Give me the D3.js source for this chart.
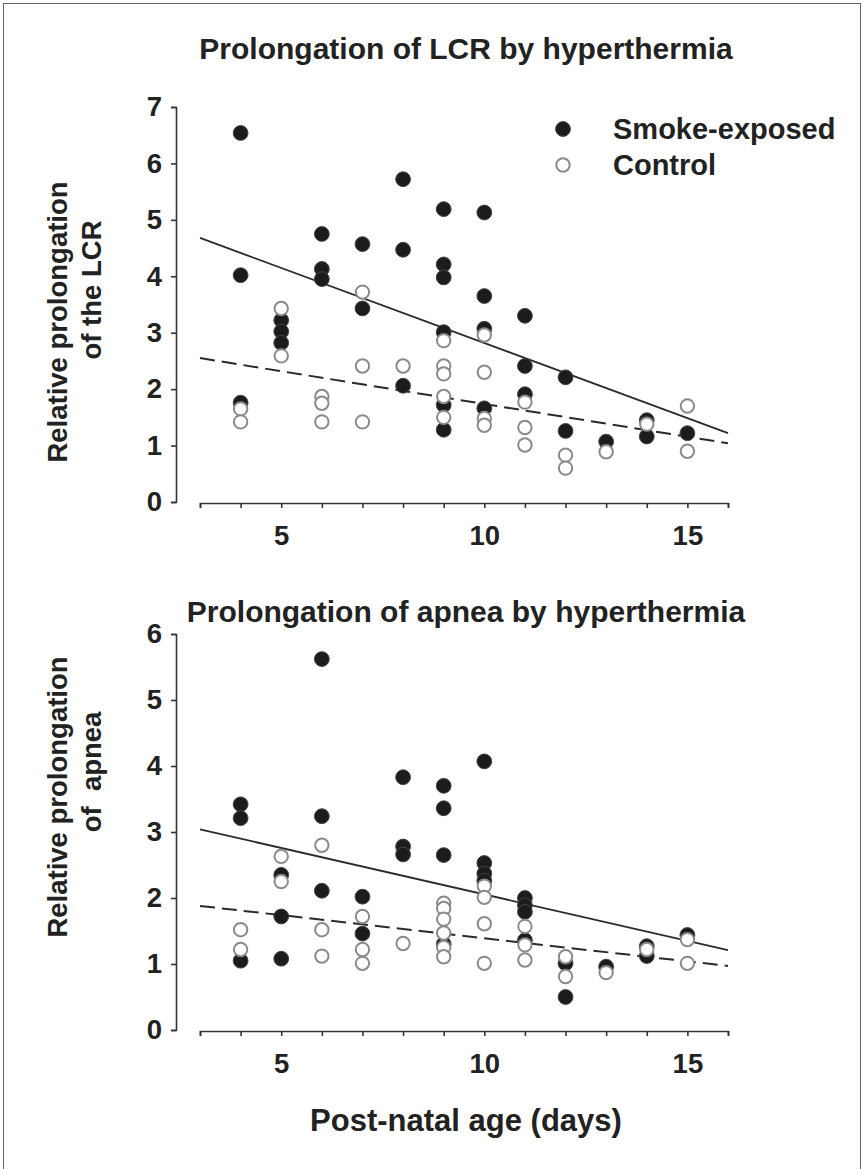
<!DOCTYPE html>
<html>
<head>
<meta charset="utf-8">
<script src="https://cdn.jsdelivr.net/npm/d3@7"></script>
<style>
  body { margin: 0; background: #fff; }
  text { font-family: "Liberation Sans", Arial, sans-serif; font-weight: bold; fill: #222; }
</style>
</head>
<body>
<script>
// LCR panel: [day, relative prolongation]
var lcrSmoke = [
  [4, 6.54], [4, 4.02], [4, 1.76],
  [5, 3.22], [5, 3.02], [5, 2.82],
  [6, 4.75], [6, 4.13], [6, 3.95],
  [7, 4.57], [7, 3.43],
  [8, 5.72], [8, 4.47], [8, 2.06],
  [9, 5.19], [9, 4.21], [9, 3.98], [9, 3.01], [9, 1.72], [9, 1.28],
  [10, 5.13], [10, 3.65], [10, 3.07], [10, 1.66],
  [11, 3.30], [11, 2.41], [11, 1.91],
  [12, 2.21], [12, 1.26],
  [13, 1.07],
  [14, 1.45], [14, 1.16],
  [15, 1.22]
];
var lcrControl = [
  [4, 1.65], [4, 1.42],
  [5, 3.43], [5, 2.59],
  [6, 1.87], [6, 1.75], [6, 1.42],
  [7, 3.72], [7, 2.41], [7, 1.42],
  [8, 2.41],
  [9, 2.86], [9, 2.41], [9, 2.27], [9, 1.87], [9, 1.50],
  [10, 2.96], [10, 2.30], [10, 1.48], [10, 1.36],
  [11, 1.77], [11, 1.32], [11, 1.01],
  [12, 0.83], [12, 0.60],
  [13, 0.89],
  [14, 1.38],
  [15, 1.70], [15, 0.90]
];
// apnea panel
var apneaSmoke = [
  [4, 3.42], [4, 3.21], [4, 1.05],
  [5, 2.35], [5, 1.72], [5, 1.08],
  [6, 5.62], [6, 3.24], [6, 2.11],
  [7, 2.02], [7, 1.46],
  [8, 3.83], [8, 2.78], [8, 2.66],
  [9, 3.70], [9, 3.36], [9, 2.65], [9, 1.30],
  [10, 4.07], [10, 2.53], [10, 2.37], [10, 2.26],
  [11, 2.00], [11, 1.89], [11, 1.79], [11, 1.36],
  [12, 1.01], [12, 0.50],
  [13, 0.96],
  [14, 1.27], [14, 1.12],
  [15, 1.44]
];
var apneaControl = [
  [4, 1.52], [4, 1.22],
  [5, 2.63], [5, 2.25],
  [6, 2.80], [6, 1.52], [6, 1.12],
  [7, 1.72], [7, 1.22], [7, 1.01],
  [8, 1.31],
  [9, 1.92], [9, 1.84], [9, 1.68], [9, 1.47], [9, 1.25], [9, 1.11],
  [10, 2.18], [10, 2.01], [10, 1.61], [10, 1.01],
  [11, 1.57], [11, 1.29], [11, 1.06],
  [12, 1.11], [12, 0.81],
  [13, 0.87],
  [14, 1.22],
  [15, 1.37], [15, 1.01]
];
// regression lines, values at day 3 and day 16
var fitDays = [3, 16];
var lcrFitSmoke = [4.68, 1.22], lcrFitControl = [2.55, 1.04];
var apneaFitSmoke = [3.04, 1.21], apneaFitControl = [1.88, 0.97];

var xTicks = d3.range(3, 17);
var xLabels = [5, 10, 15];

var width = 864, height = 1169;
var svg = d3.select("body").append("svg")
    .attr("width", width)
    .attr("height", height);

svg.append("rect")
    .attr("x", 3.5).attr("y", 3.5)
    .attr("width", 857).attr("height", 1180)
    .attr("fill", "none").attr("stroke", "#666");

var x = d3.scaleLinear().domain([3, 16]).range([200, 728]);

function styleAxis(s) {
  s.selectAll("path,line").attr("stroke", "#333").attr("stroke-width", 1.6);
  s.selectAll("text").attr("font-size", 27.5).attr("fill", "#222")
    .attr("font-family", "Liberation Sans, Arial").attr("font-weight", "bold");
}

function panel(opt) {
  var y = d3.scaleLinear().domain([0, opt.ymax]).range([opt.y0, opt.y1]);
  var g = svg.append("g");

  g.append("g")
      .attr("transform", "translate(176,0)")
      .call(d3.axisLeft(y).ticks(opt.ymax).tickSize(5).tickPadding(9).tickFormat(d3.format("d")))
      .call(styleAxis);

  g.append("g")
      .attr("transform", "translate(0," + (opt.y0 + 1) + ")")
      .call(d3.axisBottom(x).tickValues(xTicks).tickSize(5).tickPadding(17)
        .tickFormat(d => xLabels.indexOf(d) >= 0 ? d : ""))
      .call(styleAxis);

  var line = d3.line().x(d => x(d[0])).y(d => y(d[1]));
  g.append("path")
      .datum(fitDays.map((d, i) => [d, opt.fitSmoke[i]]))
      .attr("d", line).attr("fill", "none")
      .attr("stroke", "#2a2a2a").attr("stroke-width", 1.8);
  g.append("path")
      .datum(fitDays.map((d, i) => [d, opt.fitControl[i]]))
      .attr("d", line).attr("fill", "none")
      .attr("stroke", "#2a2a2a").attr("stroke-width", 2)
      .attr("stroke-dasharray", "15,7");

  g.selectAll(".smoke").data(opt.smoke).enter().append("circle")
      .attr("cx", d => x(d[0])).attr("cy", d => y(d[1])).attr("r", 7.4)
      .attr("fill", "#1c1c1c").attr("stroke", "#444").attr("stroke-width", 1);
  g.selectAll(".control").data(opt.control).enter().append("circle")
      .attr("cx", d => x(d[0])).attr("cy", d => y(d[1])).attr("r", 6.7)
      .attr("fill", "#fff").attr("stroke", "#8a8a8a").attr("stroke-width", 2);

  g.append("text")
      .attr("x", 466).attr("y", opt.titleY)
      .attr("text-anchor", "middle").attr("font-size", 30)
      .text(opt.title);

  g.append("text")
      .attr("transform", "translate(67," + opt.label1Y + ") rotate(-90)")
      .attr("text-anchor", "middle").attr("font-size", 27.5)
      .text("Relative prolongation");
  g.append("text")
      .attr("transform", "translate(101," + opt.label2Y + ") rotate(-90)")
      .attr("text-anchor", "middle").attr("font-size", 27.5)
      .attr("xml:space", "preserve")
      .text(opt.ylabel2);
  return y;
}

panel({
  ymax: 7, y0: 502, y1: 107, titleY: 59,
  title: "Prolongation of LCR by hyperthermia",
  ylabel2: "of the LCR", label1Y: 322, label2Y: 290,
  smoke: lcrSmoke, control: lcrControl,
  fitSmoke: lcrFitSmoke, fitControl: lcrFitControl
});

panel({
  ymax: 6, y0: 1030, y1: 634, titleY: 622,
  title: "Prolongation of apnea by hyperthermia",
  ylabel2: "of  apnea", label1Y: 797, label2Y: 772,
  smoke: apneaSmoke, control: apneaControl,
  fitSmoke: apneaFitSmoke, fitControl: apneaFitControl
});

// legend
var legend = svg.append("g");
legend.append("circle").attr("cx", 563).attr("cy", 129).attr("r", 7.4)
    .attr("fill", "#1c1c1c").attr("stroke", "#444");
legend.append("text").attr("x", 613).attr("y", 139).attr("font-size", 29).text("Smoke-exposed");
legend.append("circle").attr("cx", 563).attr("cy", 165).attr("r", 6.7)
    .attr("fill", "#fff").attr("stroke", "#8a8a8a").attr("stroke-width", 2);
legend.append("text").attr("x", 613).attr("y", 175).attr("font-size", 29).text("Control");

svg.append("text")
    .attr("x", 466).attr("y", 1131)
    .attr("text-anchor", "middle").attr("font-size", 31)
    .text("Post-natal age (days)");
</script>
</body>
</html>
